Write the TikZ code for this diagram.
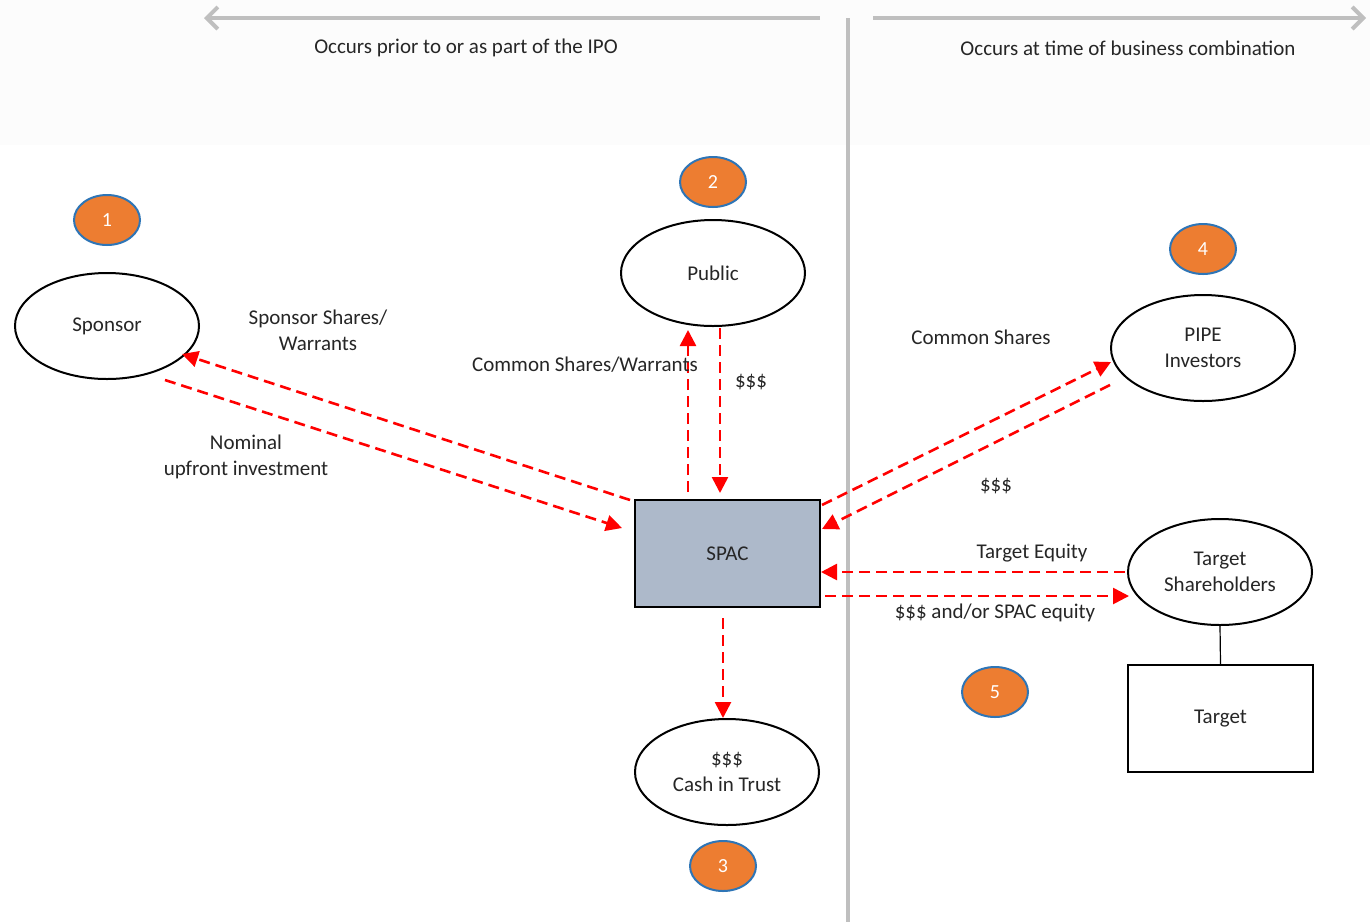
\documentclass[tikz,border=0pt]{standalone}
\usepackage{fontspec}
\setmainfont{Carlito}
\usetikzlibrary{arrows.meta,shapes.geometric}
\definecolor{divgray}{HTML}{BFBFBF}
\definecolor{badgeor}{HTML}{ED7D31}
\definecolor{badgebl}{HTML}{2E75B6}
\definecolor{spacfill}{HTML}{ADB9CA}
\definecolor{flowred}{HTML}{FF0000}
\definecolor{bandgray}{HTML}{FCFCFC}
\tikzset{
  party/.style={ellipse, draw=black, line width=2pt, fill=white,
    minimum width=184pt, minimum height=106pt, inner sep=0pt,
    align=center, font=\fontsize{21}{26}\selectfont, text=black!85},
  badge/.style={ellipse, draw=badgebl, line width=2pt, fill=badgeor,
    minimum width=66pt, minimum height=50pt, inner sep=0pt,
    text=white, font=\fontsize{20}{22}\selectfont},
  boxnode/.style={draw=black, line width=2pt, minimum width=185pt,
    minimum height=107pt, inner sep=0pt, align=center,
    font=\fontsize{21}{24}\selectfont, text=black!85},
  flow/.style={draw=flowred, line width=2.6pt, dash pattern=on 11pt off 6pt,
    -{Triangle[length=16pt,width=16pt]}},
  lbl/.style={align=center, font=\fontsize{21}{26}\selectfont, text=black!85,
    inner sep=0pt},
  divider/.style={draw=divgray, line width=4pt},
  timeline/.style={draw=divgray, line width=4pt,
    -{Straight Barb[length=11pt,width=22pt,line width=4pt]}},
}
\begin{document}
\begin{tikzpicture}[x=1pt,y=-1pt]
\useasboundingbox (0,0) rectangle (1370,922);
\fill[white] (0,0) rectangle (1370,922);
\fill[bandgray] (0,0) rectangle (1370,145);

% time line and divider
\coordinate (tlA) at (820,18);
\coordinate (tlB) at (204,18);
\coordinate (trA) at (873,18);
\coordinate (trB) at (1366,18);
\coordinate (dvA) at (848,18);
\coordinate (dvB) at (848,922);
\draw[timeline] (tlA) -- (tlB);
\draw[timeline] (trA) -- (trB);
\draw[divider] (dvA) -- (dvB);
\node[lbl] (hdrL) at (466,48) {Occurs prior to or as part of the IPO};
\node[lbl] (hdrR) at (1128,48) {Occurs at time of business combination};

% parties
\node[party] (sponsor) at (107,326) {Sponsor};
\node[party] (public) at (713,273) {Public};
\node[party] (pipe) at (1203,348) {PIPE\\Investors};
\node[boxnode, fill=spacfill] (spac) at (727.5,553.5) {SPAC};
\node[party] (trust) at (727,772) {\$\$\$\\Cash in Trust};
\node[party] (tsh) at (1220,572) {Target\\Shareholders};
\node[boxnode, fill=white] (target) at (1220.5,718.5) {Target};
\draw[line width=1.2pt] (tsh.south) -- (target.north);

% step badges
\node[badge] (b1) at (107,220) {1};
\node[badge] (b2) at (713,182) {2};
\node[badge] (b3) at (723,866) {3};
\node[badge] (b4) at (1203,249) {4};
\node[badge] (b5) at (995,692) {5};

% flow end points
\coordinate (spSW) at (630,500);
\coordinate (spR) at (182,354);
\coordinate (spL) at (165,380);
\coordinate (spIn) at (622,528);
\coordinate (puUpS) at (688,492);
\coordinate (puUpE) at (688,330);
\coordinate (puDnS) at (720,328);
\coordinate (puDnE) at (720,493);
\coordinate (piOutS) at (822,505);
\coordinate (piOutE) at (1111,362);
\coordinate (piInS) at (1110,385);
\coordinate (piInE) at (822,529);
\coordinate (teS) at (1125,572);
\coordinate (teE) at (821,572);
\coordinate (teqS) at (825,596);
\coordinate (teqE) at (1129,596);
\coordinate (trS) at (723,618);
\coordinate (trE) at (723,718);

\draw[flow] (spSW) -- (spR);
\draw[flow] (spL) -- (spIn);
\draw[flow] (puUpS) -- (puUpE);
\draw[flow] (puDnS) -- (puDnE);
\draw[flow] (piOutS) -- (piOutE);
\draw[flow] (piInS) -- (piInE);
\draw[flow] (teS) -- (teE);
\draw[flow] (teqS) -- (teqE);
\draw[flow] (trS) -- (trE);

% flow labels
\node[lbl] (l1) at (318,330) {Sponsor Shares/\\Warrants};
\node[lbl] (l2) at (246,457) {Nominal\\upfront investment};
\node[lbl] (l3) at (585,365) {Common Shares/Warrants};
\node[lbl] (l4) at (751,382) {\$\$\$};
\node[lbl] (l5) at (981,337) {Common Shares};
\node[lbl] (l6) at (996,486) {\$\$\$};
\node[lbl] (l7) at (1032,553) {Target Equity};
\node[lbl] (l8) at (995,613) {\$\$\$ and/or SPAC equity};
\end{tikzpicture}
\end{document}
